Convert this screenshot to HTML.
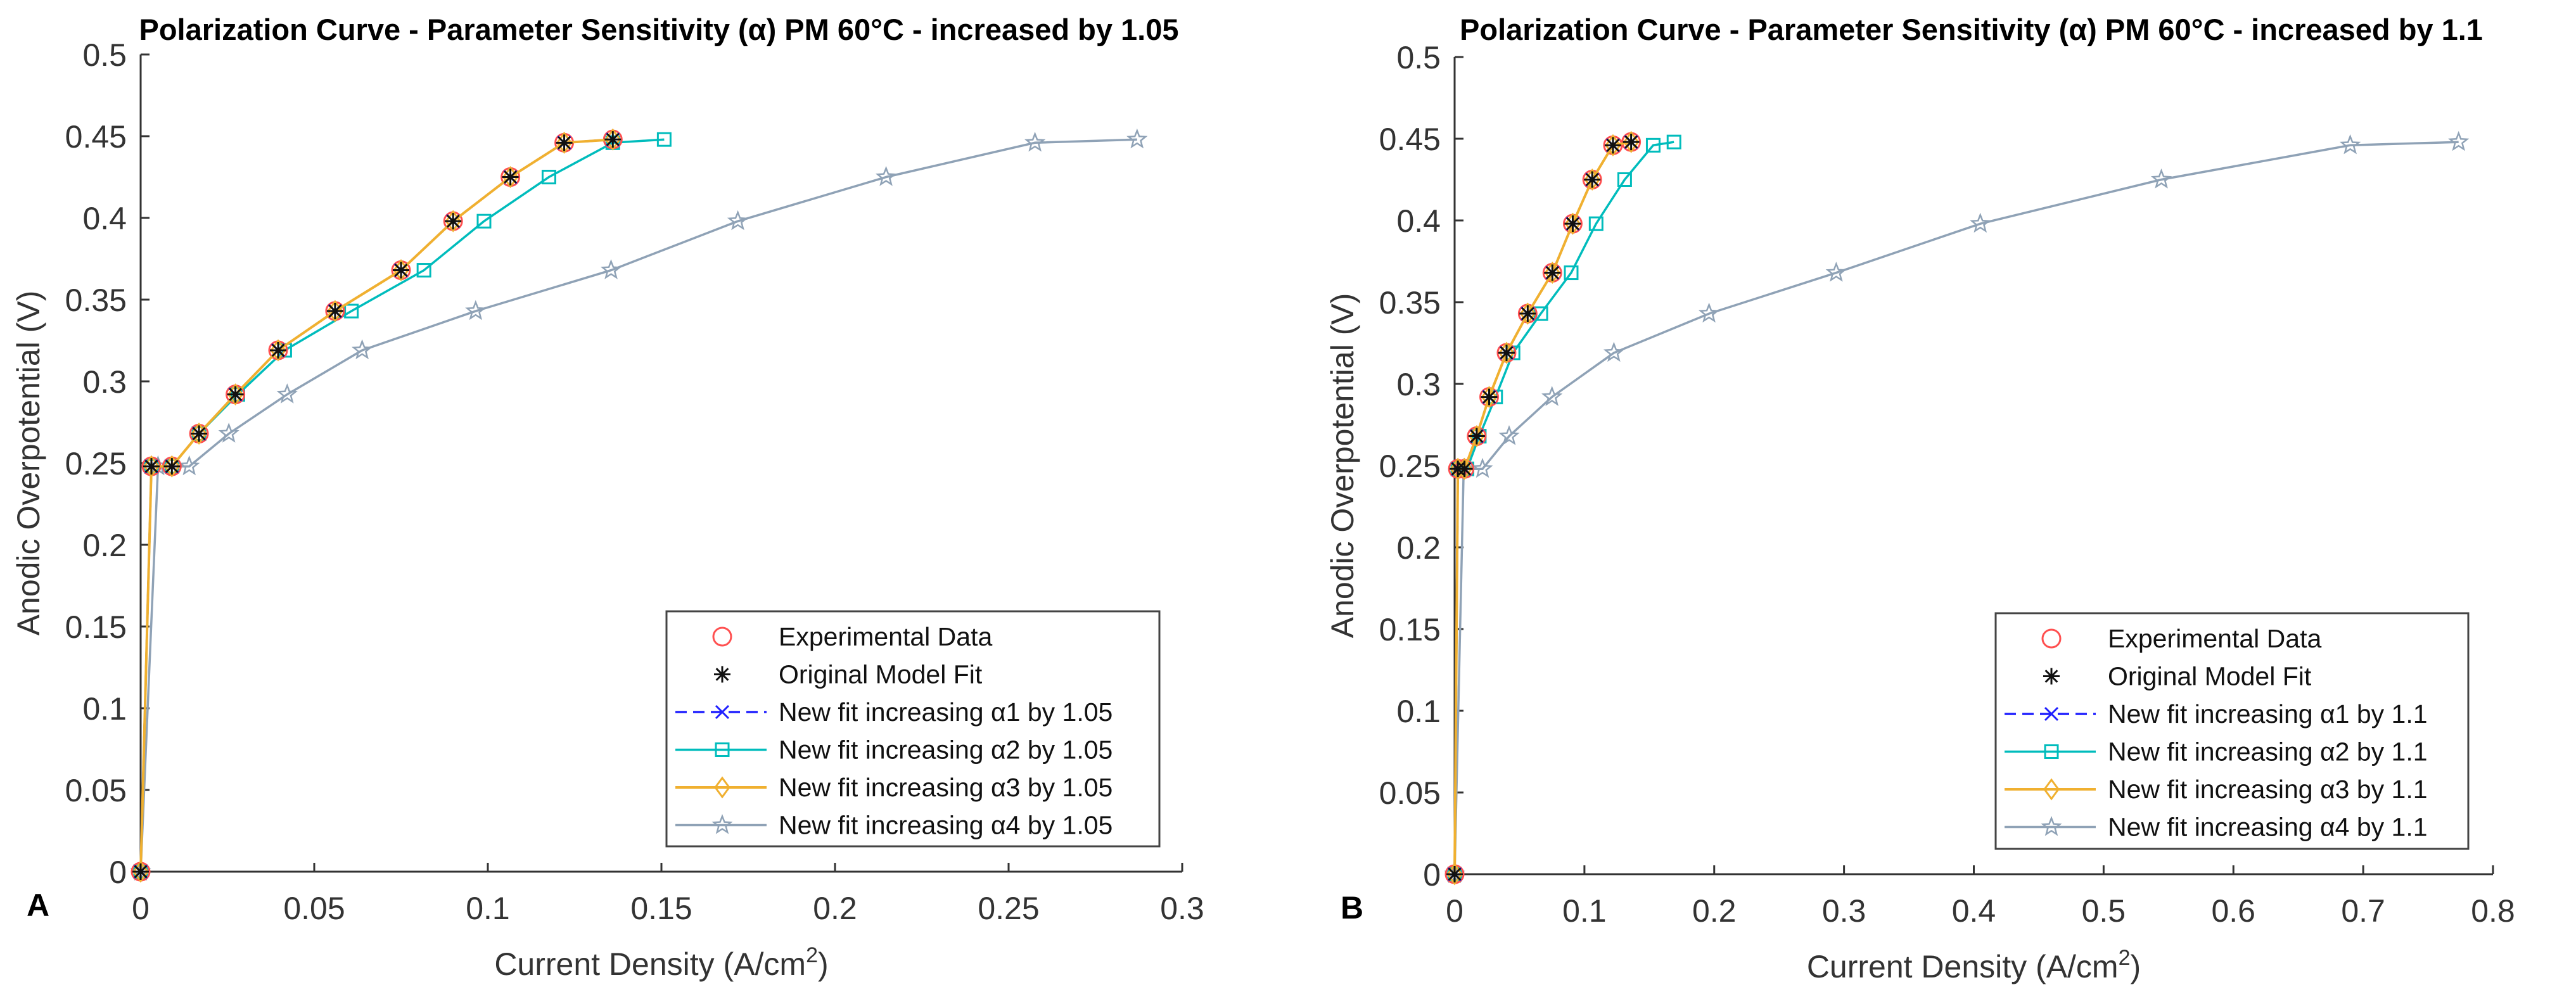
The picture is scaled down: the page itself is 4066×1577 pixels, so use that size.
<!DOCTYPE html>
<html><head><meta charset="utf-8"><style>
html,body{margin:0;padding:0;background:#fff;}
svg{display:block;font-family:"Liberation Sans",sans-serif;}
</style></head><body>
<svg id="chart" width="4066" height="1577" viewBox="0 0 4066 1577" xmlns="http://www.w3.org/2000/svg">
<rect width="4066" height="1577" fill="#fff"/>
</svg>
<script>
// ---- Panel A data ----
const yVals = [0, 0.248, 0.248, 0.268, 0.292, 0.319, 0.343, 0.368, 0.398, 0.425, 0.446, 0.448];
const aBaseX = [0, 0.0031, 0.009, 0.0168, 0.0273, 0.0396, 0.056, 0.075, 0.090, 0.1065, 0.122, 0.136];
const aA2X = [0, 0.0031, 0.009, 0.0168, 0.028, 0.0415, 0.0607, 0.0816, 0.0989, 0.1176, 0.136, 0.1508];
const aA4X = [0, 0.005, 0.014, 0.0254, 0.0422, 0.0638, 0.0965, 0.1355, 0.172, 0.2147, 0.2576, 0.287];
const aXTicks = [0, 0.05, 0.1, 0.15, 0.2, 0.25, 0.3];
const aXTickLabels = ["0", "0.05", "0.1", "0.15", "0.2", "0.25", "0.3"];
// ---- Panel B data ----
const bBaseX = [0, 0.0025, 0.0076, 0.017, 0.0266, 0.040, 0.0563, 0.0753, 0.091, 0.106, 0.122, 0.136];
const bA2X = [0, 0.0025, 0.0095, 0.019, 0.0316, 0.045, 0.0664, 0.0898, 0.109, 0.131, 0.153, 0.169];
const bA4X = [0, 0.007, 0.0215, 0.042, 0.075, 0.1227, 0.196, 0.294, 0.405, 0.5445, 0.690, 0.7735];
const bXTicks = [0, 0.1, 0.2, 0.3, 0.4, 0.5, 0.6, 0.7, 0.8];
const bXTickLabels = ["0", "0.1", "0.2", "0.3", "0.4", "0.5", "0.6", "0.7", "0.8"];
const yTicks = [0, 0.05, 0.1, 0.15, 0.2, 0.25, 0.3, 0.35, 0.4, 0.45, 0.5];
const yTickLabels = ["0", "0.05", "0.1", "0.15", "0.2", "0.25", "0.3", "0.35", "0.4", "0.45", "0.5"];

const NS = "http://www.w3.org/2000/svg";
const svg = document.getElementById("chart");
function el(tag, attrs, parent) {
  const e = document.createElementNS(NS, tag);
  for (const k in attrs) e.setAttribute(k, attrs[k]);
  (parent || svg).appendChild(e);
  return e;
}
const C_RED = "#ff5050", C_BLUE = "#2020ff", C_CYAN = "#00bcbc", C_ORANGE = "#f0b030", C_GRAY = "#8fa2b6";

function marker(g, type, x, y, color) {
  let m;
  if (type === "circle") {
    m = el("circle", {cx: x, cy: y, r: 14, fill: "none", stroke: color, "stroke-width": 3}, g);
  } else if (type === "asterisk") {
    const s = 13, d = s * 0.72;
    m = el("path", {d: `M${x-s},${y}H${x+s}M${x},${y-s}V${y+s}M${x-d},${y-d}L${x+d},${y+d}M${x-d},${y+d}L${x+d},${y-d}`, stroke: color, "stroke-width": 3, fill: "none"}, g);
  } else if (type === "x") {
    const s = 10;
    m = el("path", {d: `M${x-s},${y-s}L${x+s},${y+s}M${x-s},${y+s}L${x+s},${y-s}`, stroke: color, "stroke-width": 3, fill: "none"}, g);
  } else if (type === "square") {
    m = el("rect", {x: x-10, y: y-10, width: 20, height: 20, fill: "none", stroke: color, "stroke-width": 3}, g);
  } else if (type === "diamond") {
    m = el("path", {d: `M${x},${y-15}L${x+11},${y}L${x},${y+15}L${x-11},${y}Z`, fill: "none", stroke: color, "stroke-width": 3}, g);
  } else if (type === "star") {
    let p = "";
    for (let i = 0; i < 10; i++) {
      const r = i % 2 === 0 ? 14 : 6;
      const a = -Math.PI / 2 + i * Math.PI / 5;
      p += (i ? "L" : "M") + (x + r * Math.cos(a)).toFixed(1) + "," + (y + r * Math.sin(a)).toFixed(1);
    }
    m = el("path", {d: p + "Z", fill: "none", stroke: color, "stroke-width": 2.5}, g);
  }
  
  
  return m;
}

function panel(cfg) {
  const {x0, x1, y0, y1, xmax, xs, ticks, tickLabels, title, letter, factor, id} = cfg;
  const sx = v => x0 + (v / xmax) * (x1 - x0);
  const sy = v => y0 - (v / 0.5) * (y0 - y1);
  const g = el("g", {});
  
  

  const t = el("text", {x: (x0 + x1) / 2 - 4, y: 63, "text-anchor": "middle", "font-size": 47, "font-weight": "bold", fill: "#000"}, g);
  t.textContent = title;
  
  

  const ax = el("path", {d: `M${x0},${y1}V${y0}H${x1}`, stroke: "#333", "stroke-width": 3, fill: "none"}, g);
  
  
  yTicks.forEach((v, i) => {
    const yy = sy(v);
    const tk = el("line", {x1: x0, x2: x0 + 14, y1: yy, y2: yy, stroke: "#333", "stroke-width": 3}, g);
    
    
    const lb = el("text", {x: x0 - 22, y: yy + 18, "text-anchor": "end", "font-size": 50, fill: "#333"}, g);
    lb.textContent = yTickLabels[i];
    
    
  });
  ticks.forEach((v, i) => {
    const xx = sx(v);
    const tk = el("line", {x1: xx, x2: xx, y1: y0, y2: y0 - 14, stroke: "#333", "stroke-width": 3}, g);
    
    
    const lb = el("text", {x: xx, y: y0 + 75, "text-anchor": "middle", "font-size": 50, fill: "#333"}, g);
    lb.textContent = tickLabels[i];
    
    
  });
  const xl = el("text", {x: (x0 + x1) / 2, y: y0 + 163, "text-anchor": "middle", "font-size": 50, fill: "#333"}, g);
  xl.innerHTML = 'Current Density (A/cm<tspan dy="-20" font-size="34">2</tspan><tspan dy="20">)</tspan>';
  
  
  const yl = el("text", {x: 0, y: 0, transform: `translate(${x0 - 160},${(y0 + y1) / 2}) rotate(-90)`, "text-anchor": "middle", "font-size": 50, fill: "#333"}, g);
  yl.textContent = "Anodic Overpotential (V)";
  
  
  const lt = el("text", {x: x0 - 180, y: y0 + 70, "font-size": 50, "font-weight": "bold", fill: "#000"}, g);
  lt.textContent = letter;
  
  

  const series = [
    {name: "experimental-data", xv: xs.base, color: C_RED, mk: "circle", line: false},
    {name: "original-model-fit", xv: xs.base, color: "#111", mk: "asterisk", line: false},
    {name: "fit-alpha1", xv: xs.base, color: C_BLUE, mk: "x", line: true, dash: "18,10"},
    {name: "fit-alpha2", xv: xs.a2, color: C_CYAN, mk: "square", line: true},
    {name: "fit-alpha3", xv: xs.base, color: C_ORANGE, mk: "diamond", line: true, w: 4},
    {name: "fit-alpha4", xv: xs.a4, color: C_GRAY, mk: "star", line: true}
  ];
  const order = [5, 3, 0, 2, 4, 1];
  order.forEach(si => {
    const s = series[si];
    const sg = el("g", {}, g);
    
    
    if (s.line) {
      const pts = s.xv.map((v, i) => sx(v).toFixed(1) + "," + sy(yVals[i]).toFixed(1)).join(" ");
      const pl = el("polyline", {points: pts, fill: "none", stroke: s.color, "stroke-width": s.w || 3.5, "stroke-dasharray": s.dash || "none"}, sg);
      
      
    }
    s.xv.forEach((v, i) => marker(sg, s.mk, sx(v), sy(yVals[i]), s.color));
  });

  const lx0 = cfg.lx0, lx1 = cfg.lx1, ly0 = cfg.ly0, ly1 = cfg.ly1;
  const lg = el("g", {}, g);
  
  
  el("rect", {x: lx0, y: ly0, width: lx1 - lx0, height: ly1 - ly0, fill: "#fff", stroke: "#444", "stroke-width": 3}, lg);
  const labels = ["Experimental Data", "Original Model Fit",
    "New fit increasing \u03b11 by " + factor, "New fit increasing \u03b12 by " + factor,
    "New fit increasing \u03b13 by " + factor, "New fit increasing \u03b14 by " + factor];
  labels.forEach((lab, i) => {
    const s = series[i];
    const cy = ly0 + 40 + i * 59.5;
    const eg = el("g", {}, lg);
    
    
    if (s.line) el("line", {x1: lx0 + 14, x2: lx0 + 158, y1: cy, y2: cy, stroke: s.color, "stroke-width": s.w || 3.5, "stroke-dasharray": s.dash || "none"}, eg);
    marker(eg, s.mk, lx0 + 88, cy, s.color);
    const tx = el("text", {x: lx0 + 177, y: cy + 14, "font-size": 41, fill: "#111"}, eg);
    tx.textContent = lab;
  });
}

panel({id: "panel-a", x0: 222, x1: 1866, y0: 1376, y1: 86, xmax: 0.3,
  xs: {base: aBaseX, a2: aA2X, a4: aA4X}, ticks: aXTicks, tickLabels: aXTickLabels,
  title: "Polarization Curve - Parameter Sensitivity (\u03b1) PM 60\u00b0C - increased by 1.05",
  letter: "A", factor: "1.05", lx0: 1052, lx1: 1830, ly0: 965, ly1: 1336});
panel({id: "panel-b", x0: 2296, x1: 3935, y0: 1380, y1: 90, xmax: 0.8,
  xs: {base: bBaseX, a2: bA2X, a4: bA4X}, ticks: bXTicks, tickLabels: bXTickLabels,
  title: "Polarization Curve - Parameter Sensitivity (\u03b1) PM 60\u00b0C - increased by 1.1",
  letter: "B", factor: "1.1", lx0: 3150, lx1: 3896, ly0: 968, ly1: 1340});
</script>
</body></html>
